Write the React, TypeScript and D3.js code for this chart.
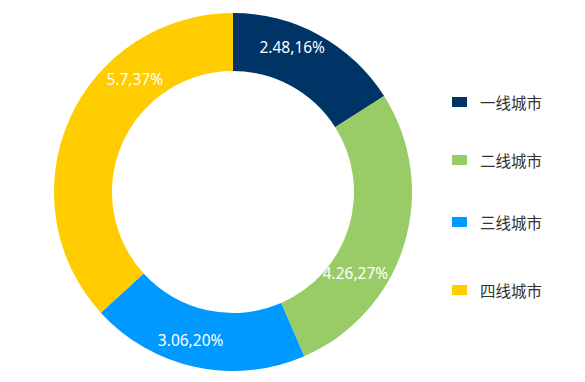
import React from "react";
import * as d3 from "d3";

const categories = ["一线城市", "二线城市", "三线城市", "四线城市"];
const values = [2.48, 4.26, 3.06, 5.7];
const percentLabels = ["16%", "27%", "20%", "37%"];
const colors = ["#003366", "#99CC66", "#0099FF", "#FFCC00"];

// label nudges relative to arc centroid (layout only)
const labelNudge: [number, number][] = [
  [-13, -14],
  [-21, 37],
  [-11, 1],
  [39, -52],
];
const legendY = [102, 160, 222, 290];

const W = 585;
const H = 382;
const cx = 233;
const cy = 192;
const outerR = 179;
const innerR = 121;

export default function App() {
  const pie = d3
    .pie<number>()
    .sort(null)
    .startAngle(0)
    .endAngle(2 * Math.PI)(values);
  const arc = d3.arc<d3.PieArcDatum<number>>().innerRadius(innerR).outerRadius(outerR);
  const labelArc = d3
    .arc<d3.PieArcDatum<number>>()
    .innerRadius((innerR + outerR) / 2)
    .outerRadius((innerR + outerR) / 2);

  return (
    <svg
      width={W}
      height={H}
      style={{ position: "absolute", left: 0, top: 0, background: "#fff" }}
    >
      <g transform={`translate(${cx},${cy})`}>
        {pie.map((d, i) => (
          <path key={i} d={arc(d) || ""} fill={colors[i]} />
        ))}
        {pie.map((d, i) => {
          const [x, y] = labelArc.centroid(d);
          return (
            <text
              key={"l" + i}
              x={x + labelNudge[i][0]}
              y={y + labelNudge[i][1]}
              textAnchor="middle"
              dominantBaseline="central"
              fill="#ffffff"
              fontFamily="'Noto Sans', 'Open Sans', sans-serif"
              fontSize={15.5}
            >
              {`${values[i]},${percentLabels[i]}`}
            </text>
          );
        })}
      </g>
      <g>
        {categories.map((c, i) => (
          <g key={c} transform={`translate(452,${legendY[i]})`}>
            <rect x={0} y={-5} width={15} height={10} fill={colors[i]} />
            <text
              x={28}
              y={0}
              dominantBaseline="central"
              fill="#333333"
              fontFamily="'Noto Sans CJK SC', sans-serif"
              fontSize={15.5}
            >
              {c}
            </text>
          </g>
        ))}
      </g>
    </svg>
  );
}
